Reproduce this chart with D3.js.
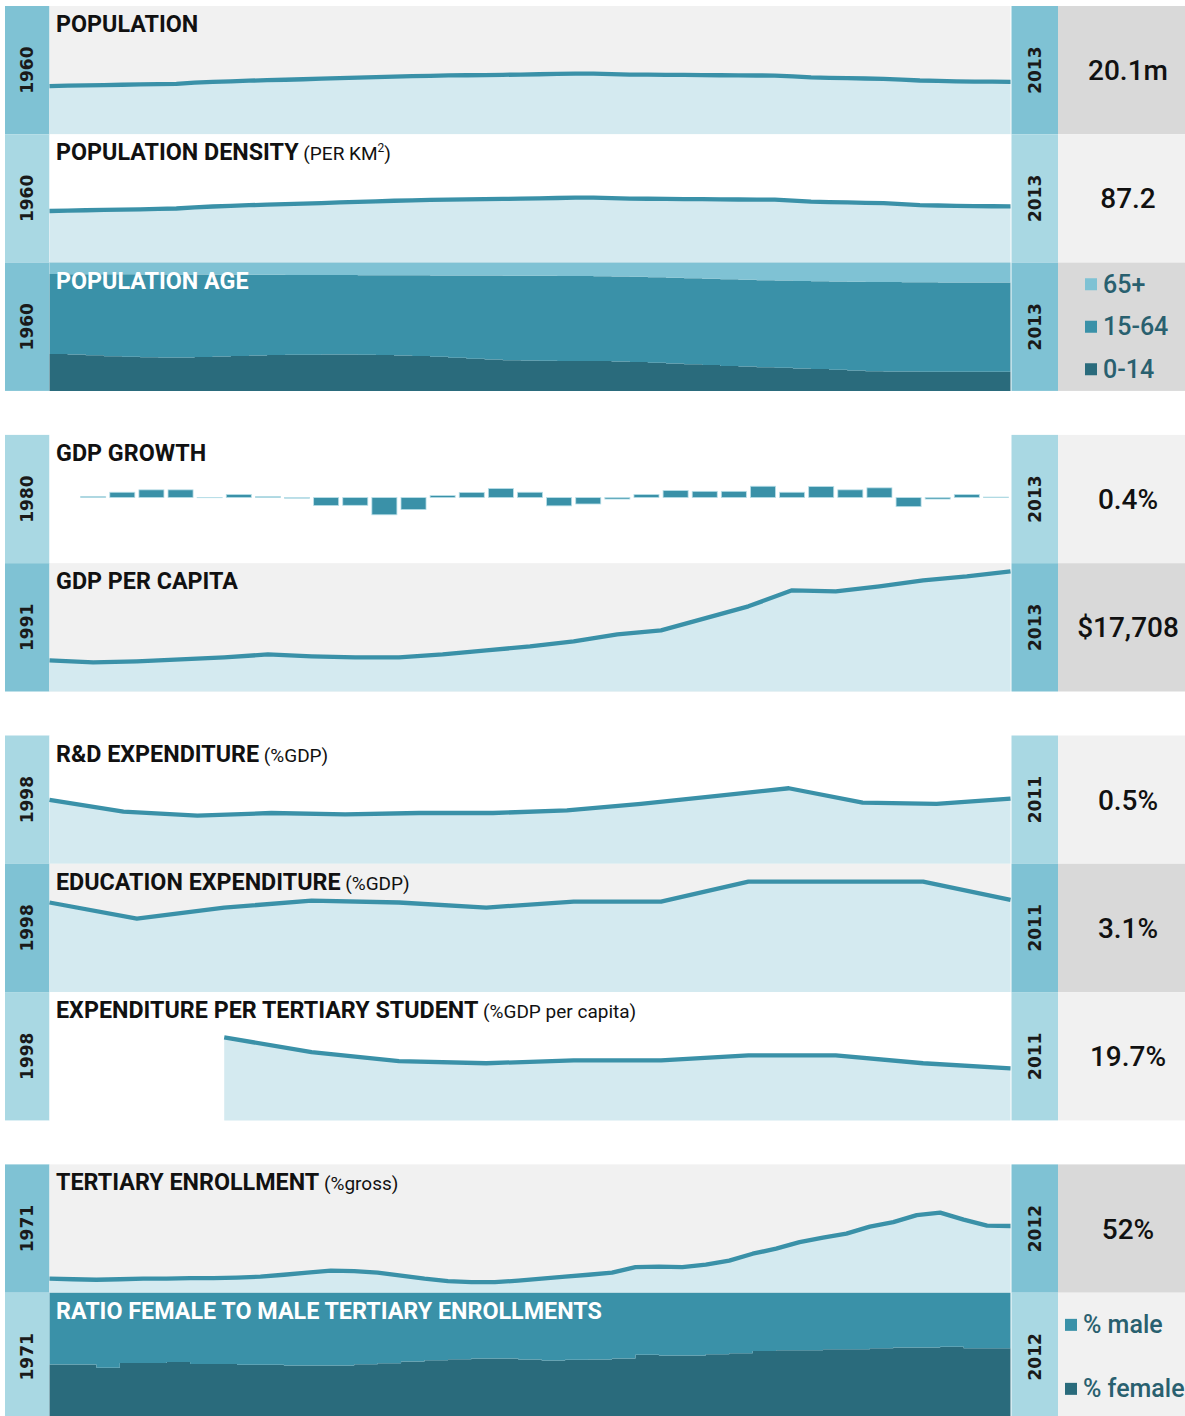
<!DOCTYPE html>
<html>
<head>
<meta charset="utf-8">
<script src="https://cdn.jsdelivr.net/npm/d3@7"></script>
<style>
  body { margin: 0; background: #fff; }
  svg { display: block; }
</style>
</head>
<body>
<svg id="chart"></svg>
<script>
// ---------------- data ----------------
const popYears = d3.range(1960, 2014);
// total population, millions
const population = [
  18.41, 18.57, 18.68, 18.81, 18.93, 19.03, 19.14, 19.29, 19.72, 20.01,
  20.25, 20.47, 20.66, 20.83, 21.03, 21.25, 21.45, 21.66, 21.86, 22.05,
  22.20, 22.35, 22.48, 22.55, 22.62, 22.72, 22.82, 22.94, 23.05, 23.15,
  23.21, 23.00, 22.79, 22.76, 22.73, 22.68, 22.61, 22.55, 22.51, 22.46,
  22.44, 22.13, 21.73, 21.57, 21.45, 21.32, 21.19, 20.88, 20.54, 20.37,
  20.25, 20.15, 20.10, 20.06
];
// people per km2
const popDensity = [
  80.0, 80.7, 81.2, 81.8, 82.3, 82.7, 83.2, 83.9, 85.7, 87.0,
  88.0, 89.0, 89.8, 90.6, 91.4, 92.4, 93.3, 94.2, 95.0, 95.9,
  96.5, 97.2, 97.7, 98.0, 98.3, 98.8, 99.2, 99.7, 100.2, 100.7,
  100.9, 100.0, 99.1, 99.0, 98.8, 98.6, 98.3, 98.0, 97.9, 97.7,
  97.6, 96.2, 94.5, 93.8, 93.3, 92.7, 92.1, 90.8, 89.3, 88.6,
  88.0, 87.6, 87.4, 87.2
];
// age structure, % of population
const age0to14 = [
  28.8, 28.3, 27.7, 27.1, 26.6, 26.3, 26.1, 26.1, 26.4, 26.8,
  27.2, 27.6, 27.9, 28.1, 28.2, 28.3, 28.3, 28.1, 27.9, 27.6,
  27.2, 26.6, 25.9, 25.1, 24.4, 23.9, 23.6, 23.5, 23.4, 23.4,
  23.3, 23.0, 22.5, 21.9, 21.3, 20.7, 20.1, 19.5, 19.0, 18.5,
  18.0, 17.5, 17.0, 16.4, 15.9, 15.4, 15.2, 15.1, 15.0, 15.0,
  15.0, 15.0, 15.0, 15.0
];
const age15to64 = [
  62.3, 62.7, 63.3, 63.8, 64.3, 64.5, 64.7, 64.6, 64.3, 63.8,
  63.4, 62.9, 62.6, 62.3, 62.2, 62.0, 62.0, 62.1, 62.3, 62.5,
  62.9, 63.4, 64.1, 64.8, 65.5, 65.9, 66.2, 66.2, 66.2, 66.1,
  66.1, 66.2, 66.4, 66.7, 66.9, 67.1, 67.3, 67.5, 67.6, 67.8,
  68.0, 68.2, 68.4, 68.8, 69.1, 69.5, 69.6, 69.6, 69.6, 69.5,
  69.5, 69.4, 69.4, 69.4
];
const age65plus = [
  8.9, 9.0, 9.0, 9.1, 9.1, 9.2, 9.2, 9.3, 9.3, 9.4,
  9.4, 9.5, 9.5, 9.6, 9.6, 9.7, 9.7, 9.8, 9.8, 9.9,
  9.9, 10.0, 10.0, 10.1, 10.1, 10.2, 10.2, 10.3, 10.4, 10.5,
  10.6, 10.8, 11.1, 11.4, 11.8, 12.2, 12.6, 13.0, 13.4, 13.7,
  14.0, 14.3, 14.6, 14.8, 15.0, 15.1, 15.2, 15.3, 15.4, 15.5,
  15.5, 15.6, 15.6, 15.6
];

const growthYears = d3.range(1980, 2013);
// GDP growth, annual %
const gdpGrowth = [
  null, 0.9, 4.0, 5.8, 5.8, -0.1, 2.3, 0.8, -0.5, -6.0,
  -5.8, -12.9, -9.0, 1.5, 3.9, 6.8, 4.0, -6.2, -4.8, -1.1,
  2.3, 5.3, 4.7, 4.7, 8.5, 4.0, 8.3, 5.8, 7.3, -6.8,
  -1.1, 2.3, 0.4
];

const gdpPcYears = d3.range(1991, 2014);
// GDP per capita, $
const gdpPerCapita = [
  4575, 4280, 4430, 4720, 5020, 5460, 5170, 5020, 5020, 5460,
  6050, 6640, 7380, 8410, 9000, 10770, 12550, 14910, 14760, 15500,
  16380, 16970, 17708
];

const rdYears = d3.range(1998, 2012);
const rdExpenditure = [0.49, 0.40, 0.37, 0.39, 0.38, 0.39, 0.39, 0.41, 0.46, 0.52, 0.58, 0.47, 0.46, 0.50];

const eduYears = d3.range(2000, 2012);
const eduExpenditure = [3.01, 2.47, 2.84, 3.07, 3.01, 2.84, 3.04, 3.04, 3.71, 3.71, 3.71, 3.10];
const tertiarySpend = [null, null, 31.4, 25.8, 22.4, 21.6, 22.7, 22.7, 24.6, 24.6, 21.6, 19.7];

const enrolYears = d3.range(1971, 2013);
// gross tertiary enrollment, %
const tertiaryEnrol = [
  10.9, 10.5, 10.1, 10.5, 10.9, 10.9, 11.3, 11.3, 11.7, 12.5,
  14.0, 15.6, 17.2, 16.8, 15.6, 13.3, 10.9, 9.0, 8.2, 8.2,
  9.4, 10.9, 12.5, 14.0, 15.6, 19.9, 20.3, 19.9, 21.8, 25.0,
  30.4, 34.3, 39.4, 42.9, 46.0, 51.5, 55.0, 60.5, 62.4, 57.0,
  52.3, 52.0
];
const femaleShare = [
  44.0, 44.0, 41.6, 45.3, 45.3, 45.9, 44.5, 44.5, 43.8, 43.8,
  43.2, 43.2, 43.2, 44.3, 45.1, 46.3, 47.4, 48.2, 48.7, 48.7,
  47.9, 47.1, 47.7, 47.9, 48.7, 51.6, 51.0, 51.0, 52.1, 52.9,
  54.5, 55.2, 55.2, 56.0, 56.0, 56.8, 57.3, 57.3, 57.8, 56.8,
  56.8, 56.8
];
const maleShare = [
  56.0, 56.0, 58.4, 54.7, 54.7, 54.1, 55.5, 55.5, 56.2, 56.2,
  56.8, 56.8, 56.8, 55.7, 54.9, 53.7, 52.6, 51.8, 51.3, 51.3,
  52.1, 52.9, 52.3, 52.1, 51.3, 48.4, 49.0, 49.0, 47.9, 47.1,
  45.5, 44.8, 44.8, 44.0, 44.0, 43.2, 42.7, 42.7, 42.2, 43.2,
  43.2, 43.2
];

// ---------------- layout ----------------
const width = 1185, height = 1416;
const colL = 5, chartL = 49.5, chartR = 1010.5, colR = 1011.5, boxL = 1058, boxR = 1200;
const panelH = 128.3, gapH = 44, top0 = 6;

const colors = {
  colDark: '#7fc2d4', colLight: '#a9d8e3',
  grey: '#f1f1f1', boxGrey: '#d9d9d9',
  area: '#d4eaf0', line: '#3a91a8',
  teal: '#3a91a8', deep: '#2a6b7c', pale: '#7fc2d4',
  legend: '#29606f'
};

const panels = [
  { sec: 0, dark: true, title: 'POPULATION', kind: 'line', years: popYears, values: population, max: 49, span: [1960, 2013], label: '20.1m' },
  { sec: 0, dark: false, title: 'POPULATION DENSITY', sup: ['(PER KM', '2', ')'], kind: 'line', years: popYears, values: popDensity, max: 199, span: [1960, 2013], label: '87.2' },
  { sec: 0, dark: true, title: 'POPULATION AGE', kind: 'stack', years: popYears, span: [1960, 2013],
    series: [
      { key: '0-14', values: age0to14, color: colors.deep },
      { key: '15-64', values: age15to64, color: colors.teal },
      { key: '65+', values: age65plus, color: colors.pale }
    ],
    legend: { x: 1085, gap: 42.5 } },
  { sec: 1, dark: false, title: 'GDP GROWTH', kind: 'bars', years: growthYears, values: gdpGrowth, domain: [-49.2, 47], span: [1980, 2013], label: '0.4%' },
  { sec: 1, dark: true, title: 'GDP PER CAPITA', kind: 'line', years: gdpPcYears, values: gdpPerCapita, max: 18900, span: [1991, 2013], label: '$17,708' },
  { sec: 2, dark: false, title: 'R&D EXPENDITURE', sub: '(%GDP)', kind: 'line', years: rdYears, values: rdExpenditure, max: 0.985, span: [1998, 2011], label: '0.5%' },
  { sec: 2, dark: true, title: 'EDUCATION EXPENDITURE', sub: '(%GDP)', kind: 'line', years: eduYears, values: eduExpenditure, max: 4.31, span: [1998, 2011], label: '3.1%' },
  { sec: 2, dark: false, title: 'EXPENDITURE PER TERTIARY STUDENT', sub: '(%GDP per capita)', kind: 'line', years: eduYears, values: tertiarySpend, max: 48.5, span: [1998, 2011], label: '19.7%' },
  { sec: 3, dark: true, title: 'TERTIARY ENROLLMENT', sub: '(%gross)', kind: 'line', years: enrolYears, values: tertiaryEnrol, max: 100, span: [1971, 2012], label: '52%' },
  { sec: 3, dark: false, title: 'RATIO FEMALE TO MALE TERTIARY ENROLLMENTS', kind: 'stack', years: enrolYears, span: [1971, 2012],
    series: [
      { key: '% female', values: femaleShare, color: colors.deep },
      { key: '% male', values: maleShare, color: colors.teal }
    ],
    legend: { x: 1065, gap: 64 } }
];

const svg = d3.select('#chart')
  .attr('width', width)
  .attr('height', height)
  .style('font-family', 'Roboto, "Liberation Sans", sans-serif');

panels.forEach((p, i) => {
  const y0 = top0 + i * panelH + p.sec * gapH;
  const g = svg.append('g').attr('transform', `translate(0,${y0})`);
  const colFill = p.dark ? colors.colDark : colors.colLight;
  const bgFill = p.dark ? colors.grey : '#ffffff';
  const boxFill = p.dark ? colors.boxGrey : colors.grey;

  // side columns + backgrounds
  g.append('rect').attr('x', colL).attr('y', 0).attr('width', chartL - colL).attr('height', panelH).attr('fill', colFill);
  g.append('rect').attr('x', chartL).attr('y', 0).attr('width', chartR - chartL).attr('height', panelH).attr('fill', bgFill);
  g.append('rect').attr('x', colR).attr('y', 0).attr('width', boxL - colR).attr('height', panelH).attr('fill', colFill);
  g.append('rect').attr('x', boxL).attr('y', 0).attr('width', boxR - boxL).attr('height', panelH).attr('fill', boxFill);

  if (p.kind === 'line') {
    const rows = p.years.map((yr, k) => ({ yr, v: p.values[k] }));
    const x = d3.scaleLinear().domain(d3.extent(p.years)).range([chartL, chartR]);
    const y = d3.scaleLinear().domain([0, p.max]).range([panelH, 0]);

    const area = d3.area()
      .defined(d => d.v != null)
      .x(d => x(d.yr))
      .y0(panelH)
      .y1(d => y(d.v));
    const line = d3.line()
      .defined(d => d.v != null)
      .x(d => x(d.yr))
      .y(d => y(d.v));

    g.append('path').datum(rows).attr('d', area).attr('fill', colors.area);
    g.append('path').datum(rows).attr('d', line)
      .attr('fill', 'none')
      .attr('stroke', colors.line)
      .attr('stroke-width', 4.3)
      .attr('stroke-linejoin', 'round');
  }

  if (p.kind === 'bars') {
    const rows = p.years.map((yr, k) => ({ yr, v: p.values[k] })).filter(d => d.v != null);
    const x = d3.scaleBand().domain(p.years).range([chartL, chartR]).paddingInner(0.14).paddingOuter(0.07);
    const y = d3.scaleLinear().domain(p.domain).range([panelH, 0]);
    g.selectAll('rect.bar')
      .data(rows)
      .join('rect')
      .attr('class', 'bar')
      .attr('x', d => x(d.yr))
      .attr('width', x.bandwidth())
      .attr('y', d => y(Math.max(0, d.v)))
      .attr('height', d => Math.abs(y(d.v) - y(0)))
      .attr('fill', colors.teal)
      .attr('stroke', '#b9dfe8')
      .attr('stroke-width', 0.8);
  }

  if (p.kind === 'stack') {
    const rows = p.years.map((yr, k) => {
      const r = { yr };
      p.series.forEach(s => { r[s.key] = s.values[k]; });
      return r;
    });
    const stack = d3.stack().keys(p.series.map(s => s.key)).offset(d3.stackOffsetExpand);
    const x = d3.scaleLinear().domain(d3.extent(p.years)).range([chartL, chartR]);
    const y = d3.scaleLinear().domain([0, 1]).range([panelH, 0]);
    const area = d3.area()
      .curve(d3.curveStepAfter)
      .x(d => x(d.data.yr))
      .y0(d => y(d[0]))
      .y1(d => y(d[1]));
    g.selectAll('path.layer')
      .data(stack(rows))
      .join('path')
      .attr('class', 'layer')
      .attr('d', area)
      .attr('fill', (d, k) => p.series[k].color);

    // legend, top entry first
    const entries = p.series.slice().reverse();
    const mid = panelH / 2;
    entries.forEach((s, k) => {
      const cy = mid + (k - (entries.length - 1) / 2) * p.legend.gap;
      g.append('rect')
        .attr('x', p.legend.x).attr('y', cy - 6)
        .attr('width', 12).attr('height', 12)
        .attr('fill', s.color);
      g.append('text')
        .attr('x', p.legend.x + 18).attr('y', cy)
        .attr('dominant-baseline', 'central')
        .attr('font-size', 25)
        .attr('font-weight', 500)
        .attr('fill', colors.legend)
        .text(s.key);
    });
  }

  // title
  const title = g.append('text')
    .attr('x', 56).attr('y', 26)
    .attr('fill', p.kind === 'stack' ? '#ffffff' : '#111')
    .attr('font-size', 23.3)
    .attr('font-weight', 700)
    .text(p.title);
  if (p.sub) {
    title.append('tspan').attr('font-size', 19).attr('font-weight', 400).text(' ' + p.sub);
  }
  if (p.sup) {
    title.append('tspan').attr('font-size', 19).attr('font-weight', 400).text(' ' + p.sup[0]);
    title.append('tspan').attr('font-size', 12).attr('font-weight', 400).attr('dy', -8).text(p.sup[1]);
    title.append('tspan').attr('font-size', 19).attr('font-weight', 400).attr('dy', 8).text(p.sup[2]);
  }

  // year labels
  [[(colL + chartL) / 2, p.span[0]], [(colR + boxL) / 2, p.span[1]]].forEach(([cx, yr]) => {
    g.append('text')
      .attr('transform', `translate(${cx},${panelH / 2}) rotate(-90)`)
      .attr('text-anchor', 'middle')
      .attr('dominant-baseline', 'central')
      .style('font-family', '"DejaVu Sans", Verdana, sans-serif')
      .attr('font-size', 17)
      .attr('font-weight', 700)
      .attr('fill', '#1a1a1a')
      .text(yr);
  });

  // headline value
  if (p.label) {
    g.append('text')
      .attr('x', 1128).attr('y', panelH / 2 + 10)
      .attr('text-anchor', 'middle')
      .attr('font-size', 28)
      .attr('font-weight', 500)
      .attr('fill', '#111')
      .text(p.label);
  }
});
</script>
</body>
</html>
